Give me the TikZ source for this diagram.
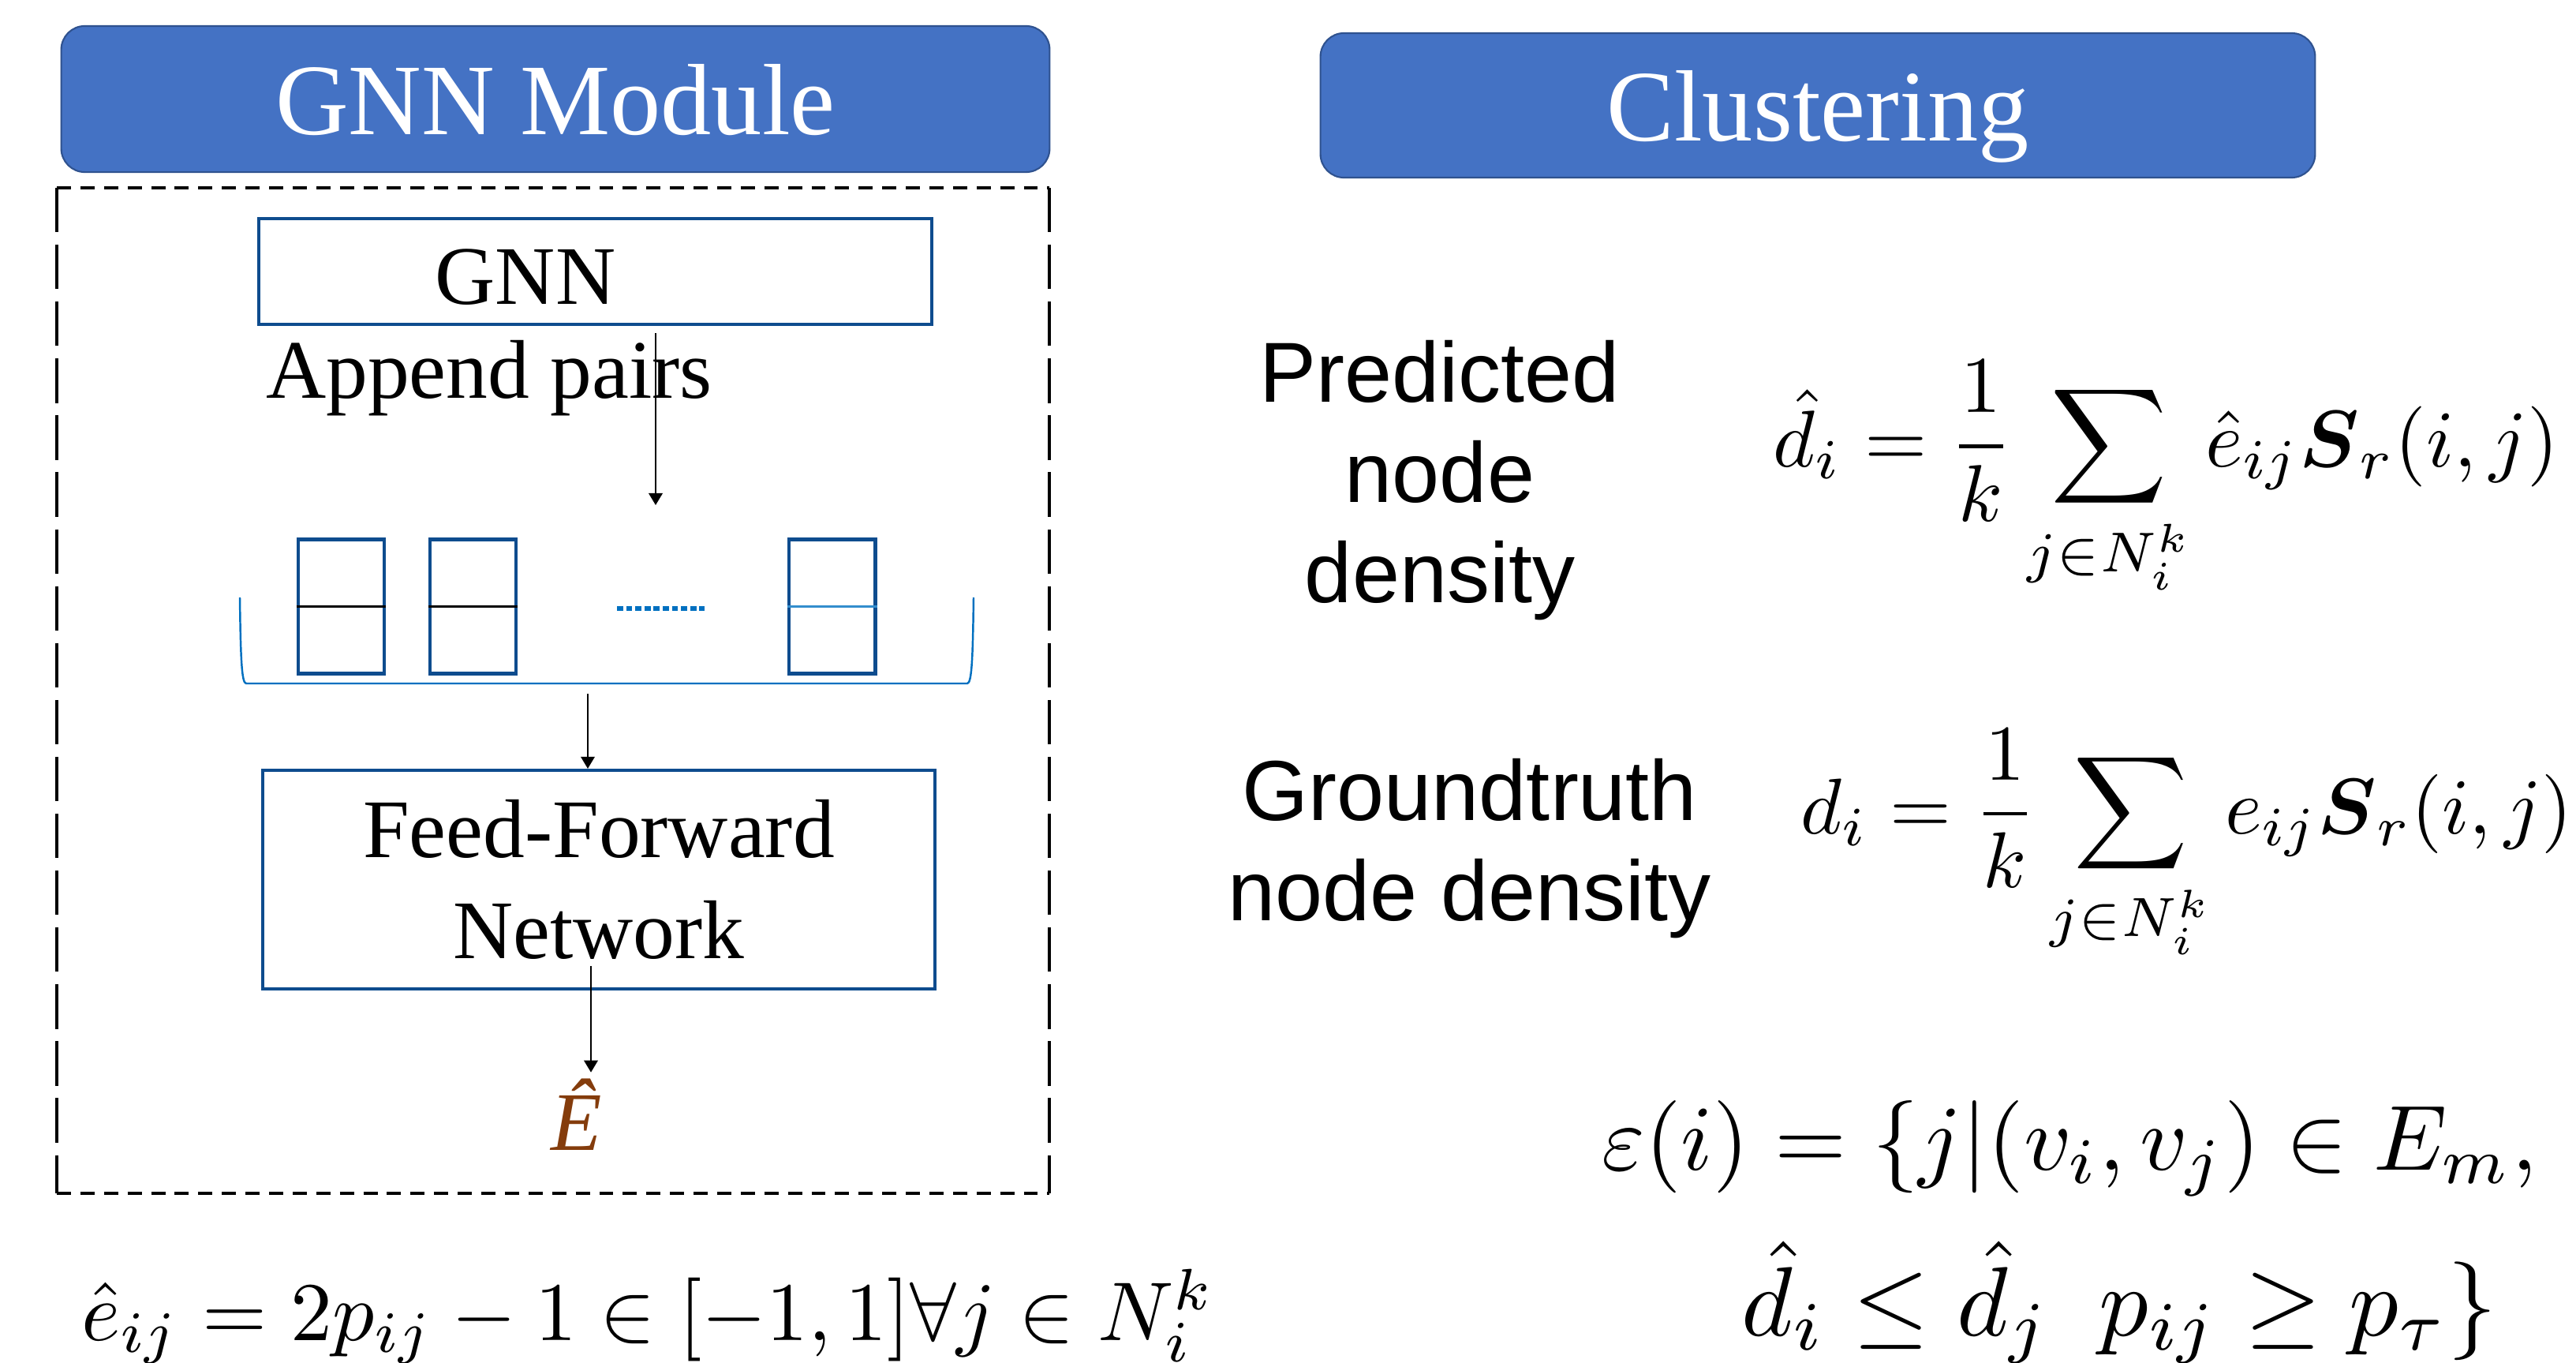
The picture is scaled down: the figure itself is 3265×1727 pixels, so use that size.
\documentclass[tikz,border=0pt]{standalone}
\usepackage{fontspec}
\usepackage{amsmath}
\usepackage{graphicx}
\setmainfont{Liberation Serif}
\newfontfamily\labsans{Liberation Sans}
\usetikzlibrary{arrows.meta}
\definecolor{hdrfill}{HTML}{4472C4}
\definecolor{hdrdraw}{HTML}{2F528F}
\definecolor{boxblue}{HTML}{0E4C8E}
\definecolor{lineblue}{HTML}{0070C0}
\definecolor{ebrown}{HTML}{843C0C}
\begin{document}
\begin{tikzpicture}[x=0.01cm,y=-0.01cm,
  hdr/.style={rectangle, rounded corners=8.5pt, fill=hdrfill, draw=hdrdraw, line width=0.6pt,
    text=white, font=\fontsize{36.5pt}{40pt}\selectfont, text depth=0pt, inner sep=0pt},
  blk/.style={rectangle, draw=boxblue, line width=1.15pt, inner sep=0pt},
  pairbox/.style={rectangle, draw=boxblue, line width=1.4pt, inner sep=0pt,
    minimum width=1.09cm, minimum height=1.69cm},
  ltxt/.style={inner sep=0pt, font=\fontsize{30pt}{36.4pt}\selectfont},
  rtxt/.style={inner sep=0pt, align=center, font=\labsans\fontsize{30.7pt}{36.1pt}\selectfont},
  arr/.style={-{Triangle[length=4.3pt,width=5pt]}, line width=0.6pt},
  dashH/.style={line width=1.15pt, dash pattern=on 5.1pt off 3.4pt},
  dashV/.style={line width=1.15pt, dash pattern=on 16pt off 4.5pt},
  fml/.style={anchor=base west, inner sep=0pt}
]
\useasboundingbox (0,0) rectangle (3265,1727);
\fill[white] (0,0) rectangle (3265,1727);

% headers
\node[hdr, minimum width=12.52cm, minimum height=1.85cm] (hgnn) at (704,125.5) {GNN Module};
\node[hdr, minimum width=12.60cm, minimum height=1.83cm] (hclu) at (2304,133.5) {Clustering};

% dashed module frame
\draw[dashH] (72,238) -- (1330,238);
\draw[dashH] (72,1512) -- (1330,1512);
\draw[dashV] (72,238) -- (72,1512);
\draw[dashV] (1330,238) -- (1330,1512);

% GNN box
\node[blk, minimum width=8.53cm, minimum height=1.34cm] (gnn) at (754.5,344) {};
\node[ltxt, anchor=base] (gnntxt) at (666,385) {GNN};
\node[ltxt, anchor=base] (append) at (620,504) {Append pairs};

% pairs
\node[pairbox] (p1) at (432.5,768.5) {};
\node[pairbox] (p2) at (599.5,768.5) {};
\node[pairbox] (p3) at (1054.5,768.5) {};
\draw[line width=0.9pt] (p1.west) -- (p1.east);
\draw[line width=0.9pt] (p2.west) -- (p2.east);
\draw[lineblue!80, line width=0.6pt] (p3.west) -- (p3.east);
\draw[lineblue, line width=1.5pt, dash pattern=on 2.2pt off 1.1pt] (782,771) -- (893,771);
\draw[lineblue, line width=0.7pt] (304,757) .. controls (305,830) and (306,866) .. (312,866)
  -- (1226,866) .. controls (1232,866) and (1233,830) .. (1234,757);

% feed-forward
\node[blk, minimum width=8.52cm, minimum height=2.77cm, align=center,
  font=\fontsize{30pt}{36.4pt}\selectfont] (ffn) at (759,1114.5) {Feed-Forward\\Network};
\node[anchor=base, text=ebrown, inner sep=0pt, font=\fontsize{30pt}{32pt}\selectfont\itshape] (ehat) at (731,1457) {Ê};

% arrows
\coordinate (a1s) at (831,422);
\coordinate (a1e) at (831,640);
\coordinate (a2s) at (745,879);
\coordinate (a3s) at (749,1224);
\draw[arr] (a1s) -- (a1e);
\draw[arr] (a2s) -- (a2s |- ffn.north);
\draw[arr, shorten >=2pt] (a3s) -- (a3s |- ehat.north);

% right labels
\node[rtxt] (pred) at (1825,609) {Predicted\\node\\density};
\node[rtxt] (gt) at (1863,1075) {Groundtruth\\node density};

% formulas
\node[fml] (fpred) at (2247,591) {\resizebox{9.95cm}{!}{$\displaystyle \hat{d}_i = \frac{1}{k}\sum_{j\in N_i^k}\hat{e}_{ij}\boldsymbol{S}_r(i,j)$}};
\node[fml] (fgt) at (2282,1056) {\resizebox{9.77cm}{!}{$\displaystyle d_i = \frac{1}{k}\sum_{j\in N_i^k} e_{ij}\boldsymbol{S}_r(i,j)$}};
\node[fml] (feij) at (103,1698) {\resizebox{14.35cm}{!}{$\hat{e}_{ij} = 2p_{ij} - 1 \in [-1,1]\forall j \in N_i^k$}};
\node[fml] (feps1) at (2030,1482) {\resizebox{11.85cm}{!}{$\varepsilon(i) = \{j|(v_i,v_j)\in E_m,$}};
\node[fml] (feps2) at (2207,1692) {\resizebox{9.57cm}{!}{$\hat{d}_i \leq \hat{d}_j\ \ p_{ij} \geq p_\tau\}$}};
\end{tikzpicture}
\end{document}
